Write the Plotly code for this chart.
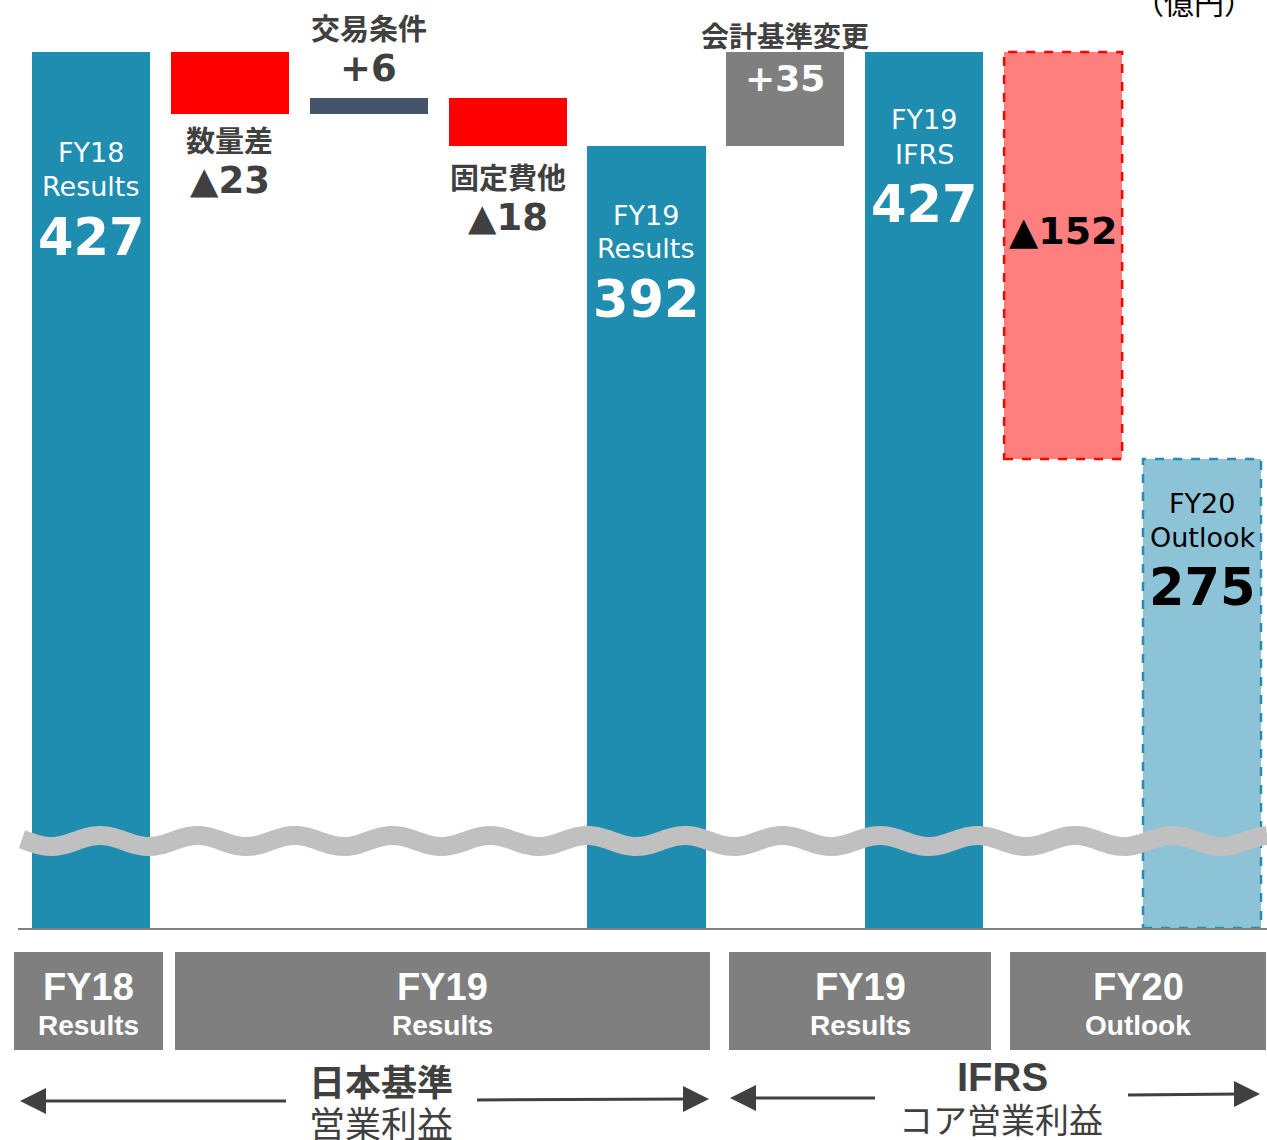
import numpy as np
import plotly.graph_objects as go

# ---------------- data ----------------
labels = ["FY18 Results", "数量差", "交易条件", "固定費他", "FY19 Results",
          "会計基準変更", "FY19 IFRS", "差異", "FY20 Outlook"]
values = [427, -23, 6, -18, 392, 35, 427, -152, 275]
is_total = [True, False, False, False, True, False, True, False, True]
bar_colors = ["#1F8DB0", "#FF0000", "#44546A", "#FF0000", "#1F8DB0",
              "#7F7F7F", "#1F8DB0", "#FF7F7F", "#8CC3D6"]
dashed_border = [None, None, None, None, None, None, None, "#FF0000", "#2A8DB0"]

period_boxes = [("FY18", "Results"), ("FY19", "Results"), ("FY19", "Results"), ("FY20", "Outlook")]
standard_labels = [("日本基準", "営業利益"), ("IFRS", "コア営業利益")]
unit_label = "（億円）"

# ---------------- waterfall geometry ----------------
bases, heights = [], []
running = 0
for v, t in zip(values, is_total):
    if t:
        bases.append(0)
        heights.append(v)
        running = v
    else:
        if v >= 0:
            bases.append(running)
            heights.append(v)
        else:
            bases.append(running + v)
            heights.append(-v)
        running += v

W, H = 1267, 1140
PLOT_H = 928
BAR_W = 0.85
Y_MIN, Y_MAX = 99.84, 446.42
X_MIN, X_MAX = -0.655, 8.468


def py(ypx):
    return (PLOT_H - ypx) / PLOT_H


def pxp(xpx):
    return xpx / W


fig = go.Figure()
fig.add_trace(go.Bar(
    x=list(range(len(values))), y=heights, base=bases, width=BAR_W,
    marker=dict(color=bar_colors, line=dict(width=0)),
    hoverinfo="skip", showlegend=False,
))

shapes = []
# dashed borders for outlook bars
for i, c in enumerate(dashed_border):
    if c:
        shapes.append(dict(type="rect", xref="x", yref="y",
                           x0=i - BAR_W / 2, x1=i + BAR_W / 2,
                           y0=max(bases[i], Y_MIN), y1=bases[i] + heights[i],
                           line=dict(color=c, width=2.5, dash="dash"),
                           fillcolor="rgba(0,0,0,0)", layer="above"))

# wavy break mark
xs = np.linspace(22, W, 400)
ys = 841 - 5.5 * np.cos(2 * np.pi * (xs - 100) / 97.5)
path = "M " + " L ".join(f"{pxp(a):.5f},{py(b):.5f}" for a, b in zip(xs, ys))
shapes.append(dict(type="path", xref="paper", yref="paper", path=path,
                   line=dict(color="#C0C0C0", width=19), layer="above"))

# axis baseline
shapes.append(dict(type="line", xref="paper", yref="paper",
                   x0=pxp(18), x1=1, y0=py(929), y1=py(929),
                   line=dict(color="#808080", width=2)))

# bottom period boxes
box_px = [(14, 163), (175, 710), (729, 991), (1010, 1266)]
for (x0, x1) in box_px:
    shapes.append(dict(type="rect", xref="paper", yref="paper",
                       x0=pxp(x0), x1=pxp(x1), y0=py(1050), y1=py(952),
                       fillcolor="#7F7F7F", line=dict(width=0)))

# arrows
ARROW_C = "#404040"


def arrow(x_line0, x_line1, y0, y1, tip_x, direction):
    s = []
    s.append(dict(type="line", xref="paper", yref="paper",
                  x0=pxp(x_line0), x1=pxp(x_line1), y0=py(y0), y1=py(y1),
                  line=dict(color=ARROW_C, width=3)))
    ty = y0 if direction < 0 else y1
    base_x = tip_x - direction * 26
    p = (f"M {pxp(tip_x):.5f},{py(ty):.5f} L {pxp(base_x):.5f},{py(ty - 13):.5f} "
         f"L {pxp(base_x):.5f},{py(ty + 13):.5f} Z")
    s.append(dict(type="path", xref="paper", yref="paper", path=p,
                  fillcolor=ARROW_C, line=dict(color=ARROW_C, width=0)))
    return s


shapes += arrow(40, 286, 1101, 1101, 20, -1)
shapes += arrow(477, 690, 1100, 1099, 709, 1)
shapes += arrow(750, 875, 1098, 1098, 730, -1)
shapes += arrow(1128, 1240, 1095, 1094, 1260, 1)

# ---------------- text ----------------
LAT = "DejaVu Sans, Noto Sans CJK JP"
CJK = "Noto Sans CJK JP"
BOX = "Liberation Sans, Arial, sans-serif"
DARK = "#404040"
ann = []


def t(xi, ypx, text, size, color, family, bold=False, xpaper=None):
    ann.append(dict(
        x=pxp(xpaper) if xpaper is not None else xi,
        xref="paper" if xpaper is not None else "x",
        y=py(ypx), yref="paper", text=f"<b>{text}</b>" if bold else text,
        showarrow=False, xanchor="center", yanchor="middle",
        font=dict(size=size, color=color, family=family)))


def val(v):
    return f"+{v}" if v > 0 else f"▲{-v}"


# FY18 bar
t(0, 153, "FY18", 27, "white", LAT)
t(0, 187, "Results", 27, "white", LAT)
t(0, 237, str(values[0]), 51, "white", LAT, True)
# volume
t(1, 139, labels[1], 29, DARK, CJK, True)
t(1, 180, val(values[1]), 37, DARK, LAT, True)
# terms of trade
t(2, 27, labels[2], 29, DARK, CJK, True)
t(2, 68, val(values[2]), 37, DARK, LAT, True)
# fixed costs
t(3, 176, labels[3], 29, DARK, CJK, True)
t(3, 217, val(values[3]), 37, DARK, LAT, True)
# FY19 results
t(4, 215, "FY19", 27, "white", LAT)
t(4, 249, "Results", 27, "white", LAT)
t(4, 299, str(values[4]), 51, "white", LAT, True)
# accounting change
t(5, 35, labels[5], 28, DARK, CJK, True)
t(5, 78, val(values[5]), 36, "white", LAT, True)
# FY19 IFRS
t(6, 120, "FY19", 27, "white", LAT)
t(6, 154, "IFRS", 27, "white", LAT)
t(6, 204, str(values[6]), 51, "white", LAT, True)
# change
t(7, 231, val(values[7]), 38, "black", LAT, True)
# FY20 outlook
t(8, 503, "FY20", 27, "black", LAT)
t(8, 537, "Outlook", 27, "black", LAT)
t(8, 587, str(values[8]), 51, "black", LAT, True)

# unit
t(None, 1, unit_label, 30, "black", CJK, xpaper=1194)

# box texts
for (x0, x1), (a, b) in zip(box_px, period_boxes):
    cx = (x0 + x1) / 2
    t(None, 987, a, 38, "white", BOX, True, xpaper=cx)
    t(None, 1025, b, 28, "white", BOX, True, xpaper=cx)

# standards
t(None, 1080, standard_labels[0][0], 36, DARK, CJK, True, xpaper=381)
t(None, 1122, standard_labels[0][1], 36, DARK, CJK, False, xpaper=381)
t(None, 1077, standard_labels[1][0], 40, DARK, BOX, True, xpaper=1002)
t(None, 1118, standard_labels[1][1], 34, DARK, CJK, False, xpaper=1001)

fig.update_layout(
    width=W, height=H,
    margin=dict(l=0, r=0, t=0, b=H - PLOT_H, pad=0),
    paper_bgcolor="white", plot_bgcolor="white",
    xaxis=dict(range=[X_MIN, X_MAX], visible=False, fixedrange=True),
    yaxis=dict(range=[Y_MIN, Y_MAX], visible=False, fixedrange=True),
    shapes=shapes, annotations=ann, showlegend=False, bargap=0,
)

fig.write_html("out.html", config={"displayModeBar": False})
